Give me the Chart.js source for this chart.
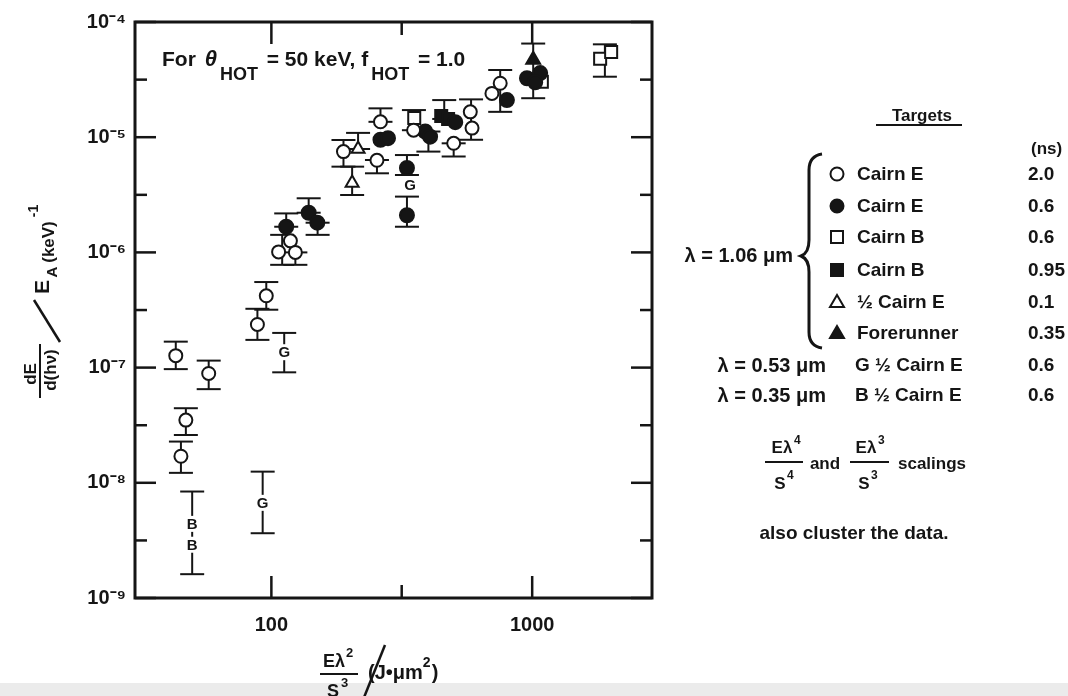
<!DOCTYPE html>
<html>
<head>
<meta charset="utf-8">
<script src="https://cdn.jsdelivr.net/npm/chart.js@4.4.1/dist/chart.umd.min.js"></script>
<style>
html, body { margin: 0; padding: 0; background: #fff; }
#wrap { position: relative; width: 1068px; height: 696px; }
</style>
</head>
<body>
<div id="wrap"><canvas id="chart" width="1068" height="696"></canvas></div>
<script>
// values: x = E*lambda^2/S^3 (J*um^2), y = dE/d(hv)/E_A (keV^-1)
const openCircleX = [43, 57.5, 47, 45, 88.4, 95.6, 106.6, 118.3, 123.6, 189, 262, 254, 351, 500, 579, 588, 701, 754]
const openCircleY = [1.27e-7, 8.9e-8, 3.5e-8, 1.7e-8, 2.37e-7, 4.2e-7, 1.01e-6, 1.26e-6, 1.0e-6, 7.5e-6, 1.36e-5, 6.3e-6, 1.15e-5, 8.85e-6, 1.66e-5, 1.2e-5, 2.4e-5, 2.94e-5]

const filledCircleX = [114, 139, 150, 262, 280, 331, 331, 389, 406, 507, 800, 955, 1073, 1027]
const filledCircleY = [1.67e-6, 2.21e-6, 1.81e-6, 9.5e-6, 9.8e-6, 5.4e-6, 2.1e-6, 1.12e-5, 1.01e-5, 1.35e-5, 2.1e-5, 3.25e-5, 3.6e-5, 3.0e-5]

const openSquareX = [353, 1089, 1822, 2008]
const openSquareY = [1.47e-5, 3.03e-5, 4.8e-5, 5.5e-5]

const filledSquareX = [448, 476]
const filledSquareY = [1.53e-5, 1.44e-5]

const openTriangleX = [204, 215]
const openTriangleY = [4.0e-6, 7.9e-6]

const filledTriangleX = [1009]
const filledTriangleY = [4.7e-5]

// lambda = 0.53 um (G) and 0.35 um (B)
const greenX = [92.6, 112, 340]
const greenY = [6.7e-9, 1.36e-7, 3.85e-6]
const blueX = [49.7, 49.7]
const blueY = [4.4e-9, 2.9e-9]

// error bars
const errX    = [43, 57.5, 47, 45, 49.7, 92.6, 88.4, 95.6, 112, 114, 110, 123.6, 139, 150.4, 189, 204, 215, 262, 254, 331, 331, 352, 400, 460, 500, 583, 754, 1009, 1900]
const errLow  = [9.7e-8, 6.5e-8, 2.6e-8, 1.22e-8, 1.61e-9, 3.65e-9, 1.74e-7, 3.18e-7, 9.1e-8, 1.67e-6, 7.8e-7, 7.8e-7, 2.21e-6, 1.42e-6, 5.55e-6, 3.15e-6, 7.9e-6, 1.36e-5, 4.86e-6, 4.7e-6, 1.67e-6, 1.15e-5, 7.5e-6, 1.44e-5, 6.8e-6, 9.5e-6, 1.66e-5, 2.18e-5, 3.35e-5]
const errHigh = [1.68e-7, 1.15e-7, 4.44e-8, 2.28e-8, 8.4e-9, 1.25e-8, 3.24e-7, 5.53e-7, 2.0e-7, 2.18e-6, 1.42e-6, 1.0e-6, 2.95e-6, 1.81e-6, 9.46e-6, 5.55e-6, 1.09e-5, 1.78e-5, 6.34e-6, 7.0e-6, 3.05e-6, 1.72e-5, 1.12e-5, 2.1e-5, 8.85e-6, 2.13e-5, 3.83e-5, 6.5e-5, 6.4e-5]

const yLabelTicks = [1e-9, 1e-8, 1e-7, 1e-6, 1e-5, 1e-4]
const yMinorTicks = [3.16e-9, 3.16e-8, 3.16e-7, 3.16e-6, 3.16e-5]
const xLabelTicks = [100, 1000]
const xMinorTicks = [316]

const legendNames = ['Cairn E', 'Cairn E', 'Cairn B', 'Cairn B', '½ Cairn E', 'Forerunner', 'G ½ Cairn E', 'B ½ Cairn E']
const legendNs = ['2.0', '0.6', '0.6', '0.95', '0.1', '0.35', '0.6', '0.6']

const ink = '#151515'
const FONT = "'Liberation Sans', Arial, sans-serif"
const B = (px) => 'bold ' + px + 'px ' + FONT

function sup(s)
{
    const m = {'-': '⁻', '0': '⁰', '1': '¹', '2': '²', '3': '³', '4': '⁴', '5': '⁵', '6': '⁶', '7': '⁷', '8': '⁸', '9': '⁹'}
    return s.split('').map(c => m[c] || c).join('')
}

const pts = (xs, ys) => xs.map((x, i) => ({x: x, y: ys[i]}))

function line(ctx, x1, y1, x2, y2)
{
    ctx.beginPath()
    ctx.moveTo(x1, y1)
    ctx.lineTo(x2, y2)
    ctx.stroke()
}

function text(ctx, t, x, y, font, align)
{
    ctx.font = font
    ctx.textAlign = align || 'left'
    ctx.fillText(t, x, y)
}

function rotText(ctx, t, x, y, font)
{
    ctx.save()
    ctx.translate(x, y)
    ctx.rotate(-Math.PI / 2)
    ctx.font = font
    ctx.textAlign = 'center'
    ctx.textBaseline = 'middle'
    ctx.fillText(t, 0, 0)
    ctx.restore()
}

function marker(ctx, kind, x, y)
{
    ctx.save()
    ctx.lineWidth = 2
    ctx.strokeStyle = ink
    ctx.fillStyle = kind.filled ? ink : '#fff'
    ctx.beginPath()
    if (kind.shape === 'circle') ctx.arc(x, y, 6.5, 0, Math.PI * 2)
    else if (kind.shape === 'rect') ctx.rect(x - 6, y - 6, 12, 12)
    else { ctx.moveTo(x, y - 7); ctx.lineTo(x + 7, y + 5); ctx.lineTo(x - 7, y + 5); ctx.closePath() }
    ctx.fill()
    ctx.stroke()
    ctx.restore()
}

const background = {
    id: 'background',
    beforeDraw(chart)
    {
        const ctx = chart.ctx
        ctx.save()
        ctx.fillStyle = '#fff'
        ctx.fillRect(0, 0, chart.width, chart.height)
        ctx.fillStyle = '#ebebeb'
        ctx.fillRect(0, 683, chart.width, 13)
        ctx.restore()
    }
}

const errorBars = {
    id: 'errorBars',
    beforeDatasetsDraw(chart)
    {
        const {ctx, scales: {x, y}} = chart
        ctx.save()
        ctx.strokeStyle = ink
        ctx.lineWidth = 2
        errX.forEach((v, i) => {
            const px = x.getPixelForValue(v)
            const lo = y.getPixelForValue(errLow[i])
            const hi = y.getPixelForValue(errHigh[i])
            line(ctx, px, lo, px, hi)
            line(ctx, px - 12, lo, px + 12, lo)
            line(ctx, px - 12, hi, px + 12, hi)
        })
        ctx.restore()
    }
}

const letters = {
    id: 'letters',
    afterDatasetsDraw(chart)
    {
        const {ctx, scales: {x, y}} = chart
        ctx.save()
        ctx.textBaseline = 'middle'
        const put = (xs, ys, l) => xs.forEach((v, i) => {
            const px = x.getPixelForValue(v), py = y.getPixelForValue(ys[i])
            ctx.fillStyle = '#fff'
            ctx.fillRect(px - 6, py - 8, 12, 16)
            ctx.fillStyle = ink
            text(ctx, l, px, py + 1, B(15), 'center')
        })
        put(greenX, greenY, 'G')
        put(blueX, blueY, 'B')
        ctx.restore()
    }
}

const frame = {
    id: 'frame',
    afterDraw(chart)
    {
        const {ctx, chartArea: a, scales: {x, y}} = chart
        ctx.save()
        ctx.strokeStyle = ink
        ctx.fillStyle = ink
        ctx.lineWidth = 2.5
        yLabelTicks.forEach(v => { const p = y.getPixelForValue(v); line(ctx, a.left, p, a.left + 21, p); line(ctx, a.right, p, a.right - 21, p) })
        yMinorTicks.forEach(v => { const p = y.getPixelForValue(v); line(ctx, a.left, p, a.left + 12, p); line(ctx, a.right, p, a.right - 12, p) })
        xLabelTicks.forEach(v => { const p = x.getPixelForValue(v); line(ctx, p, a.bottom, p, a.bottom - 22); line(ctx, p, a.top, p, a.top + 22) })
        xMinorTicks.forEach(v => { const p = x.getPixelForValue(v); line(ctx, p, a.bottom, p, a.bottom - 13); line(ctx, p, a.top, p, a.top + 13) })
        ctx.lineWidth = 3
        ctx.strokeRect(a.left, a.top, a.right - a.left, a.bottom - a.top)

        // annotation inside the plot
        ctx.textBaseline = 'alphabetic'
        const run = [['For ', B(21), 0], ['θ', 'italic ' + B(22), 0], ['HOT', B(18), 14], [' = 50 keV, f', B(21), 0], ['HOT', B(18), 14], [' = 1.0', B(21), 0]]
        let cx = 162
        run.forEach(r => { ctx.font = r[1]; ctx.textAlign = 'left'; ctx.fillText(r[0], cx, 66 + r[2]); cx += ctx.measureText(r[0]).width + 3 })

        // y axis title
        ctx.lineWidth = 2
        rotText(ctx, 'dE', 31, 374, B(17))
        line(ctx, 40, 344, 40, 398)
        rotText(ctx, 'd(hν)', 51, 370, B(17))
        ctx.lineWidth = 2.5
        line(ctx, 60, 342, 34, 300)
        rotText(ctx, 'E', 43, 287, B(21))
        rotText(ctx, 'A', 53, 272, B(15))
        rotText(ctx, '(keV)', 49, 242, B(17))
        rotText(ctx, '-1', 34, 211, B(14))

        // x axis title
        ctx.lineWidth = 2
        text(ctx, 'Eλ', 334, 667, B(18), 'center')
        text(ctx, '2', 346, 657, B(13), 'left')
        line(ctx, 320, 674, 358, 674)
        text(ctx, 'S', 333, 697, B(18), 'center')
        text(ctx, '3', 341, 687, B(13), 'left')
        ctx.lineWidth = 2.5
        line(ctx, 385, 645, 363, 700)
        text(ctx, '(J•μm', 368, 679, B(20), 'left')
        ctx.font = B(20)
        const w = ctx.measureText('(J•μm').width
        text(ctx, '2', 368 + w, 667, B(14), 'left')
        text(ctx, ')', 368 + w + 9, 679, B(20), 'left')

        // legend block
        text(ctx, 'Targets', 922, 121, B(17), 'center')
        ctx.lineWidth = 2
        line(ctx, 876, 125, 962, 125)
        text(ctx, '(ns)', 1031, 154, B(17), 'left')
        const rowY = [174, 206, 237, 270, 302, 333, 365, 395]
        const kinds = [
            {shape: 'circle', filled: false}, {shape: 'circle', filled: true},
            {shape: 'rect', filled: false}, {shape: 'rect', filled: true},
            {shape: 'tri', filled: false}, {shape: 'tri', filled: true}
        ]
        ctx.textBaseline = 'middle'
        rowY.forEach((ry, i) => {
            if (i < 6) marker(ctx, kinds[i], 837, ry)
            text(ctx, legendNames[i], i < 6 ? 857 : 855, ry + 1, B(19), 'left')
            text(ctx, legendNs[i], 1028, ry + 1, B(19), 'left')
        })
        text(ctx, 'λ = 1.06 μm', 793, 256, B(20), 'right')
        text(ctx, 'λ = 0.53 μm', 826, 366, B(20), 'right')
        text(ctx, 'λ = 0.35 μm', 826, 396, B(20), 'right')
        // brace
        ctx.lineWidth = 3
        ctx.beginPath()
        ctx.moveTo(822, 154)
        ctx.quadraticCurveTo(809, 156, 809, 170)
        ctx.lineTo(809, 240)
        ctx.quadraticCurveTo(809, 253, 801, 256)
        ctx.quadraticCurveTo(809, 259, 809, 272)
        ctx.lineTo(809, 332)
        ctx.quadraticCurveTo(809, 346, 822, 348)
        ctx.stroke()

        // scalings note
        ctx.textBaseline = 'alphabetic'
        ctx.lineWidth = 2
        text(ctx, 'Eλ', 782, 453, B(17), 'center')
        text(ctx, '4', 794, 444, B(12), 'left')
        line(ctx, 765, 462, 803, 462)
        text(ctx, 'S', 780, 489, B(17), 'center')
        text(ctx, '4', 787, 479, B(12), 'left')
        text(ctx, 'and', 825, 469, B(17), 'center')
        text(ctx, 'Eλ', 866, 453, B(17), 'center')
        text(ctx, '3', 878, 444, B(12), 'left')
        line(ctx, 850, 462, 889, 462)
        text(ctx, 'S', 864, 489, B(17), 'center')
        text(ctx, '3', 871, 479, B(12), 'left')
        text(ctx, 'scalings', 898, 469, B(17), 'left')
        text(ctx, 'also cluster the data.', 854, 539, B(19), 'center')
        ctx.restore()
    }
}

const base = {borderColor: ink, borderWidth: 2, pointRadius: 6.5, pointHoverRadius: 6.5, showLine: false}

new Chart(document.getElementById('chart'), {
    type: 'scatter',
    data: {
        datasets: [
            {...base, label: 'Cairn E 2.0 ns', data: pts(openCircleX, openCircleY), pointStyle: 'circle', backgroundColor: '#fff'},
            {...base, label: 'Cairn E 0.6 ns', data: pts(filledCircleX, filledCircleY), pointStyle: 'circle', backgroundColor: ink, pointRadius: 7},
            {...base, label: 'Cairn B 0.6 ns', data: pts(openSquareX, openSquareY), pointStyle: 'rect', backgroundColor: '#fff', pointRadius: 8.5},
            {...base, label: 'Cairn B 0.95 ns', data: pts(filledSquareX, filledSquareY), pointStyle: 'rect', backgroundColor: ink, pointRadius: 8.5},
            {...base, label: '1/2 Cairn E 0.1 ns', data: pts(openTriangleX, openTriangleY), pointStyle: 'triangle', backgroundColor: '#fff', pointRadius: 7.5},
            {...base, label: 'Forerunner 0.35 ns', data: pts(filledTriangleX, filledTriangleY), pointStyle: 'triangle', backgroundColor: ink, pointRadius: 8},
            {...base, label: 'G', data: pts(greenX, greenY), pointRadius: 0},
            {...base, label: 'B', data: pts(blueX, blueY), pointRadius: 0}
        ]
    },
    options: {
        responsive: false,
        animation: false,
        devicePixelRatio: 1,
        layout: {padding: {left: 0, top: 22, right: 416, bottom: 0}},
        plugins: {legend: {display: false}, tooltip: {enabled: false}, title: {display: false}},
        scales: {
            x: {
                type: 'logarithmic',
                min: 30,
                max: 2880,
                grid: {display: false, drawTicks: false},
                border: {display: false},
                afterBuildTicks: (scale) => { scale.ticks = xLabelTicks.map(v => ({value: v})) },
                afterFit: (scale) => { scale.height = 98 },
                ticks: {color: ink, font: {family: FONT, weight: 'bold', size: 20}, padding: 15, maxRotation: 0, callback: (v) => String(v)}
            },
            y: {
                type: 'logarithmic',
                min: 1e-9,
                max: 1e-4,
                grid: {display: false, drawTicks: false},
                border: {display: false},
                afterBuildTicks: (scale) => { scale.ticks = yLabelTicks.map(v => ({value: v})) },
                afterFit: (scale) => { scale.width = 135 },
                ticks: {color: ink, font: {family: FONT, weight: 'bold', size: 20}, padding: 9, callback: (v) => '10' + sup(String(Math.round(Math.log10(v))))}
            }
        }
    },
    plugins: [background, errorBars, letters, frame]
})
</script>
</body>
</html>
